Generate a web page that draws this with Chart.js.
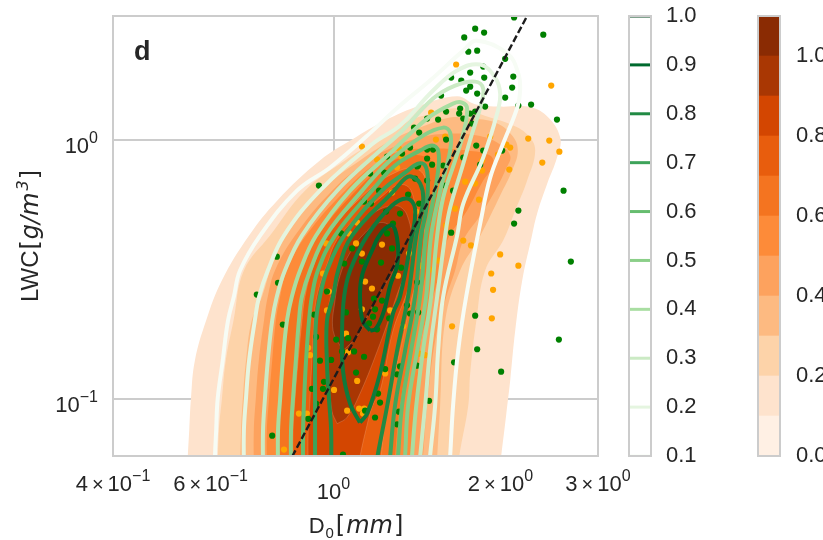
<!DOCTYPE html>
<html><head><meta charset="utf-8">
<style>html,body{margin:0;padding:0;background:#fff}canvas{position:absolute;left:0;top:0}</style>
<script src="https://cdn.jsdelivr.net/npm/chart.js@4"></script></head>
<body>
<canvas id="main" width="823" height="540"></canvas>
<canvas id="cbGreen" width="823" height="540"></canvas>
<canvas id="cbOrange" width="823" height="540"></canvas>
<script>
const xTickValues=[0.4,0.6,1,2,3];
const xTickMantissas=['4','6','','2','3'];
const xTickExponents=['−1','−1','0','0','0'];
const yTickValues=[0.1,1];
const yTickExponents=['−1','0'];
const greenLevels=[1.0,0.9,0.8,0.7,0.6,0.5,0.4,0.3,0.2,0.1];
const greenColors=['#00441b','#006a2e','#218a44','#3da35a','#66bd6f','#8bcf89','#a9dea2','#cbeac4','#e5f5e0','#f7fcf5'];
const orangeEdges=[0,0.1,0.2,0.3,0.4,0.5,0.6,0.7,0.8,0.9,1.0,1.1];
const orangeColors=['#fff0e4','#fee3cd','#fdd3a9','#fdba81','#fda25e','#fd8b39','#f47420','#e85d0d','#d34601','#a93703','#8a2b03'];
const band1=[[.544,.0527],[.549,.0752],[.553,.1],[.562,.14],[.589,.2],[.629,.286],[.704,.426],[.791,.581],[.945,.83],[1.08,1],[1.239,1.184],[1.433,1.353],[1.671,1.47],[1.801,1.37],[1.998,1.341],[2.235,1.341],[2.42,1.238],[2.564,1.018],[2.53,.852],[2.43,.676],[2.33,.518],[2.27,.4075],[2.19,.286],[2.127,.183],[2.083,.1174],[2.05,.0875],[2.006,.0597],[1.99,.0527]];
const band2=[[.618,.0527],[.621,.0752],[.629,.1],[.639,.14],[.66,.2],[.689,.312],[.768,.426],[.888,.635],[1.049,.83],[1.203,1],[1.374,1.184],[1.512,1.26],[1.671,1.32],[1.917,1.216],[2.11,1.132],[2.245,1.036],[2.311,.9066],[2.235,.6945],[2.127,.532],[2.023,.4075],[1.877,.312],[1.81,.2],[1.764,.125],[1.75,.094],[1.685,.0597],[1.678,.0527]];
const band3=[[.678,.0527],[.681,.0752],[.686,.1],[.695,.14],[.712,.2],[.743,.2477],[.768,.312],[.81,.426],[.945,.635],[1.116,.83],[1.28,1],[1.463,1.132],[1.623,1.216],[1.764,1.205],[1.957,1.163],[2.1,1.036],[2.15,.9066],[2.1,.759],[1.998,.608],[1.9,.487],[1.82,.4075],[1.692,.312],[1.59,.2],[1.557,.094],[1.538,.0597],[1.532,.0527]];
const band4=[[.718,.0527],[.718,.0752],[.724,.1],[.733,.14],[.749,.2],[.761,.2477],[.784,.312],[.852,.426],[.994,.635],[1.155,.83],[1.265,.923],[1.433,1.018],[1.623,1.055],[1.816,1.036],[1.973,.974],[2.083,.867],[2.04,.759],[1.957,.635],[1.839,.509],[1.714,.4075],[1.657,.312],[1.59,.239],[1.525,.1675],[1.475,.094],[1.45,.0597],[1.44,.0527]];
const band5=[[.758,.0527],[.758,.0752],[.765,.1],[.775,.14],[.787,.2],[.801,.2477],[.823,.312],[.892,.426],[1.049,.635],[1.213,.83],[1.346,.9066],[1.525,.923],[1.742,.9066],[1.917,.867],[1.94,.794],[1.862,.6945],[1.742,.532],[1.603,.4075],[1.557,.312],[1.506,.239],[1.433,.16],[1.415,.094],[1.385,.0597],[1.38,.0527]];
const band6=[[.798,.0527],[.798,.0752],[.804,.1],[.814,.14],[.828,.2],[.845,.2477],[.87,.312],[.937,.426],[1.098,.635],[1.239,.794],[1.374,.867],[1.48,.845],[1.537,.745],[1.53,.556],[1.493,.4075],[1.48,.341],[1.433,.239],[1.374,.153],[1.318,.094],[1.291,.0597],[1.286,.0527]];
const band7=[[.845,.0527],[.845,.0752],[.852,.1],[.863,.14],[.877,.2],[.888,.2477],[.914,.312],[.973,.426],[1.155,.635],[1.291,.745],[1.403,.773],[1.463,.707],[1.463,.509],[1.44,.341],[1.38,.239],[1.318,.153],[1.25,.094],[1.218,.0597],[1.213,.0527]];
const band8=[[.9,.0527],[.9,.0752],[.907,.1],[.914,.14],[.922,.2],[.933,.2477],[.965,.312],[1.027,.426],[1.228,.608],[1.318,.67],[1.38,.635],[1.403,.487],[1.374,.286],[1.28,.183],[1.213,.107],[1.176,.094],[1.143,.0752],[1.116,.0597],[1.105,.0527]];
const band9=[[1.015,.08],[.993,.0898],[.977,.1365],[.965,.1675],[.977,.219],[1.006,.2856],[1.071,.4075],[1.164,.509],[1.291,.556],[1.358,.509],[1.38,.373],[1.296,.245],[1.213,.163],[1.116,.1045],[1.057,.0845],[1.015,.08]];
const band10=[[1.04,.153],[.998,.183],[1.006,.239],[1.027,.298],[1.071,.366],[1.14,.437],[1.213,.478],[1.28,.453],[1.302,.39],[1.28,.312],[1.234,.273],[1.164,.219],[1.105,.175],[1.04,.153]];
const level01=[[.611,.0527],[.611,.0597],[.614,.0752],[.618,.1],[.631,.14],[.645,.2],[.661,.2477],[.678,.312],[.737,.426],[.859,.635],[.986,.78],[1.14,1.018],[1.318,1.353],[1.493,1.69],[1.714,2.205],[1.816,2.41],[2.06,2.148],[2.155,1.798],[2.171,1.546],[2.145,1.329],[2.023,.965],[1.917,.713],[1.839,.474],[1.735,.2477],[1.678,.153],[1.643,.094],[1.623,.0597],[1.616,.0527]];
const level02=[[.689,.0527],[.689,.0752],[.695,.1],[.704,.14],[.721,.2],[.734,.2477],[.761,.312],[.814,.426],[.945,.635],[1.178,.965],[1.318,1.132],[1.512,1.546],[1.671,1.847],[1.839,1.949],[1.957,1.736],[1.998,1.505],[1.973,1.26],[1.862,.852],[1.714,.566],[1.671,.426],[1.577,.2477],[1.544,.153],[1.525,.094],[1.493,.0597],[1.487,.0527]];
const level03=[[.746,.0527],[.746,.0752],[.752,.1],[.761,.14],[.775,.2],[.79,.2477],[.817,.312],[.877,.426],[1.015,.635],[1.213,.9066],[1.318,1.06],[1.512,1.44],[1.657,1.616],[1.801,1.674],[1.862,1.574],[1.839,1.329],[1.778,1.055],[1.706,.78],[1.623,.546],[1.59,.426],[1.538,.2477],[1.493,.153],[1.463,.094],[1.433,.0597],[1.427,.0527]];
const level04=[[.794,.0527],[.794,.0752],[.801,.1],[.81,.14],[.824,.2],[.841,.2477],[.87,.312],[.93,.426],[1.071,.635],[1.28,.9066],[1.475,1.205],[1.643,1.377],[1.706,1.39],[1.742,1.317],[1.714,1.055],[1.657,.83],[1.577,.597],[1.538,.426],[1.5,.2477],[1.45,.153],[1.41,.094],[1.385,.0597],[1.38,.0527]];
const level05=[[.838,.0527],[.838,.0752],[.845,.1],[.855,.14],[.866,.2],[.877,.2477],[.907,.312],[.969,.426],[1.126,.635],[1.265,.83],[1.451,1.036],[1.577,1.112],[1.623,1.064],[1.623,.9066],[1.563,.653],[1.5,.426],[1.469,.2477],[1.415,.153],[1.363,.094],[1.346,.0597],[1.34,.0527]];
const level06=[[.881,.0527],[.881,.0752],[.885,.1],[.892,.14],[.903,.2],[.914,.2477],[.937,.312],[1.006,.426],[1.173,.635],[1.291,.794],[1.433,.9066],[1.506,.948],[1.544,.9066],[1.544,.759],[1.506,.556],[1.469,.426],[1.433,.2477],[1.38,.153],[1.329,.094],[1.307,.0597],[1.3,.0527]];
const level07=[[.926,.0527],[.926,.0752],[.926,.1],[.926,.14],[.93,.2],[.945,.2477],[.973,.312],[1.045,.426],[1.223,.635],[1.346,.745],[1.421,.808],[1.463,.794],[1.48,.6945],[1.469,.532],[1.439,.426],[1.403,.2477],[1.346,.153],[1.291,.094],[1.265,.0597],[1.26,.0527]];
const level08=[[.99,.0527],[.99,.0752],[.981,.1],[.973,.1365],[.973,.2],[.998,.2477],[1.019,.312],[1.08,.426],[1.286,.635],[1.346,.707],[1.38,.72],[1.433,.676],[1.451,.581],[1.41,.426],[1.363,.2477],[1.302,.153],[1.25,.094],[1.2,.0597],[1.19,.0527]];
const level09=[[1.116,.0808],[1.071,.0956],[1.04,.128],[1.036,.183],[1.045,.2477],[1.071,.312],[1.15,.426],[1.275,.556],[1.358,.592],[1.403,.542],[1.38,.4075],[1.318,.2477],[1.28,.213],[1.213,.125],[1.15,.0875],[1.116,.0808]];
const level10=[[1.164,.183],[1.128,.2],[1.116,.254],[1.128,.304],[1.18,.383],[1.203,.418],[1.239,.453],[1.28,.465],[1.307,.39],[1.302,.326],[1.265,.273],[1.234,.219],[1.193,.186],[1.164,.183]];
const fitLine=[[.842,.0597],[2.235,3]];
const orangeDots=[[1.125,.94],[1.312,.923],[1.324,.86],[1.198,.838],[1.302,.78],[1.103,.478],[1.066,.434],[1.409,.527],[1.275,.624],[.97,.397],[1.098,.397],[1.125,.363],[1.223,.393],[.957,.304],[.981,.259],[.973,.219],[1.14,.283],[1.173,.266],[1.307,.298],[1.265,.219],[1.125,.221],[1.053,.178],[.9,.157],[.907,.147],[1.062,.151],[1.103,.117],[1.002,.108],[1.239,.125],[1.112,.0915],[1.058,.0898],[1.136,.0915],[1.13,.0875],[.866,.0875],[.895,.0875],[.814,.0635],[1.368,.363],[1.335,.19],[1.427,.149],[1.664,1.949],[2.47,1.616],[1.5,1.27],[2.245,1.009],[2.45,.991],[2.555,.898],[2.38,.815],[1.917,1.027],[1.53,1],[1.59,1.027],[2.083,.931],[2.05,.956],[1.854,.83],[1.98,.875],[2.075,.766],[1.854,.759],[1.728,.688],[1.801,.676],[1.83,.586],[1.657,.541],[1.596,.466],[1.998,.36],[2.155,.326],[1.925,.304],[1.94,.263],[1.93,.204],[1.636,.19],[1.714,.4075],[1.77,.39],[1.433,.326],[1.544,.341],[1.493,.315],[1.463,.147]];
const greenDots=[[.941,.664],[1.397,1.112],[1.427,1.064],[1.374,.931],[1.329,.883],[1.249,.86],[1.164,.739],[1.234,.745],[1.208,.635],[1.135,.576],[1.168,.566],[1.244,.527],[1.318,.518],[1.363,.613],[1.415,.787],[1.403,.707],[1.032,.434],[1.249,.434],[1.28,.474],[.79,.353],[.794,.28],[.727,.252],[.81,.193],[.922,.211],[.973,.259],[.93,.173],[1.011,.169],[1.062,.171],[1.053,.215],[1.036,.152],[1.089,.152],[1.135,.145],[.945,.14],[.99,.141],[1.098,.126],[.961,.116],[.957,.109],[.914,.109],[.93,.0955],[.9,.0835],[.775,.0719],[1.04,.0607],[1.188,.0845],[1.213,.0965],[1.203,.1045],[1.14,.0898],[1.239,.13],[1.302,.124],[1.318,.133],[1.26,.204],[1.198,.185],[1.159,.195],[1.178,.207],[1.188,.221],[1.223,.239],[1.183,.243],[1.324,.32],[1.275,.38],[1.218,.335],[1.125,.338],[1.08,.38],[1.045,.332],[1.357,.229],[1.415,.281],[1.312,.089],[1.302,.0795],[1.374,.213],[1.421,.215],[1.415,.134],[1.801,2.68],[1.869,2.59],[1.721,2.48],[2.117,2.96],[2.39,2.54],[1.75,2.185],[1.816,2.205],[2.04,2.05],[1.862,1.914],[1.764,1.814],[1.7,1.69],[1.87,1.736],[2.11,1.75],[2.1,1.587],[1.764,1.6],[1.735,1.546],[1.816,1.505],[1.63,1.736],[2.04,1.452],[1.563,1.478],[2.272,1.365],[2.155,1.353],[1.877,1.341],[1.692,1.317],[1.685,1.26],[1.801,1.283],[1.764,1.26],[1.596,1.283],[2.53,1.195],[1.544,1.195],[1.475,1.205],[1.714,1.205],[1.778,1.153],[1.596,1],[1.809,.948],[1.475,.915],[1.512,.915],[1.862,.9066],[2.015,.9066],[1.475,.845],[1.714,.852],[1.506,.8],[1.577,.794],[1.839,.8],[1.475,.6945],[1.59,.664],[1.643,.635],[2.6,.635],[1.421,.794],[1.427,.566],[2.155,.532],[2.117,.474],[1.63,.437],[2.68,.338],[2.55,.169],[1.801,.209],[1.816,.155],[2.006,.127],[1.65,.138],[1.487,.098]];

const FONT='"Liberation Sans", Arial, sans-serif';
const MATH='"DejaVu Sans", sans-serif';
const TEXT='#262626', SPINE='#cccccc';
const toPts=a=>a.map(p=>({x:p[0],y:p[1]}));
const bands=[band1,band2,band3,band4,band5,band6,band7,band8,band9,band10];
const levels=[level01,level02,level03,level04,level05,level06,level07,level08,level09,level10];
const levelColors=['#f7fcf5','#e5f5e0','#cbeac4','#a9dea2','#8bcf89','#66bd6f','#3da35a','#218a44','#117a3c','#006a2e'];

const datasets=[];
bands.forEach((b,i)=>datasets.push({band:true,data:toPts(b),showLine:true,tension:0.4,capBezierPoints:false,backgroundColor:orangeColors[i+1],borderColor:'rgba(255,255,255,0.22)',borderWidth:i>5?0.7:0,pointRadius:0,clip:0}));
datasets.push({data:toPts(orangeDots),backgroundColor:'#ffa500',borderWidth:0,pointRadius:3.1,clip:0});
datasets.push({data:toPts(greenDots),backgroundColor:'#008000',borderWidth:0,pointRadius:3.1,clip:0});
levels.forEach((l,i)=>datasets.push({data:toPts(l),showLine:true,tension:0.4,capBezierPoints:false,borderColor:levelColors[i],backgroundColor:'transparent',borderWidth:4,pointRadius:0,clip:0}));
datasets.push({data:toPts(fitLine),showLine:true,borderColor:'#1c1c1c',borderWidth:2.4,borderDash:[7,3],pointRadius:0,clip:0});
datasets.forEach((d,i)=>{d.order=datasets.length-i;});

const bandFill={id:'bandFill',beforeDatasetDraw(chart,args){
  const ds=chart.data.datasets[args.index]; if(!ds.band) return;
  const c=chart.ctx,a=chart.chartArea;
  c.save();c.beginPath();c.rect(a.left,a.top,a.right-a.left,a.bottom-a.top);c.clip();
  c.beginPath();args.meta.dataset.path(c);c.closePath();c.fillStyle=ds.backgroundColor;c.fill();c.restore();
}};
const frame={id:'frame',afterDatasetsDraw(chart){
  const c=chart.ctx,a=chart.chartArea;
  c.save();c.strokeStyle=SPINE;c.lineWidth=2;c.strokeRect(a.left,a.top,a.right-a.left,a.bottom-a.top);c.restore();
}};
function fontOf(r){return (r.i?'italic ':'')+(r.s||22)+'px '+(r.f||FONT);}
function runs(c,list,cx,cy,align){
  let w=0;
  list.forEach(r=>{c.font=fontOf(r);r.w=c.measureText(r.t).width+(r.g||0);w+=r.w;});
  let x=align==='right'?cx-w:cx-w/2;
  c.textAlign='left';c.textBaseline='alphabetic';c.fillStyle=TEXT;
  list.forEach(r=>{c.font=fontOf(r);c.fillText(r.t,x,cy+(r.dy||0));x+=r.w;});
}
const titles={id:'titles',afterDraw(chart){
  const c=chart.ctx;c.save();
  const sx=chart.scales.x, sy=chart.scales.y;
  xTickValues.forEach((v,i)=>{
    const m=xTickMantissas[i];
    const list=m?[{t:m,g:4},{t:'×',s:20,g:4},{t:'10'},{t:xTickExponents[i],s:16,dy:-10}]:[{t:'10'},{t:xTickExponents[i],s:16,dy:-10}];
    runs(c,list,sx.getPixelForValue(v),m?491:499);
  });
  yTickValues.forEach((v,i)=>{
    runs(c,[{t:'10'},{t:yTickExponents[i],s:16,dy:-10}],98,sy.getPixelForValue(v)+13,'right');
  });
  runs(c,[{t:'D',g:1},{t:'0',s:15,dy:5,g:2},{t:'[',s:24,f:MATH,g:1},{t:'mm',i:1,s:24,f:MATH,g:1},{t:']',s:24,f:MATH}],356,533);
  c.save();c.translate(38,236);c.rotate(-Math.PI/2);
  runs(c,[{t:'LWC',s:24,g:1},{t:'[',s:24,f:MATH,g:1},{t:'g/m',i:1,s:24,f:MATH,g:2},{t:'3',i:1,s:16,f:MATH,dy:-10,g:1},{t:']',s:24,f:MATH}],0,0);
  c.restore();
  c.font='bold 27px '+FONT;c.fillStyle=TEXT;c.textAlign='left';c.textBaseline='alphabetic';c.fillText('d',134,60);
  c.restore();
}};
const noPad=s=>{s.paddingLeft=0;s.paddingRight=0;s.paddingTop=0;s.paddingBottom=0;};

new Chart(document.getElementById('main'),{type:'scatter',data:{datasets},plugins:[bandFill,frame,titles],options:{
  responsive:false,animation:false,events:[],
  layout:{padding:{top:16,right:225,left:0,bottom:0}},
  plugins:{legend:{display:false},tooltip:{enabled:false}},
  scales:{
    x:{type:'logarithmic',min:0.4,max:3,
      afterBuildTicks:s=>{s.ticks=xTickValues.map(v=>({value:v,major:v===1}));},
      afterFit:s=>{s.height=84;noPad(s);},
      border:{display:false},
      grid:{drawTicks:false,lineWidth:2,color:c=>(c.tick&&c.tick.value===1)?SPINE:'transparent'},
      ticks:{display:false,autoSkip:false,maxRotation:0}},
    y:{type:'logarithmic',min:0.06,max:3,
      afterBuildTicks:s=>{s.ticks=yTickValues.map(v=>({value:v,major:true}));},
      afterFit:s=>{s.width=113;noPad(s);},
      border:{display:false},
      grid:{drawTicks:false,lineWidth:2,color:SPINE},
      ticks:{display:false,autoSkip:false}}
  }}});

new Chart(document.getElementById('cbGreen'),{type:'scatter',
  data:{datasets:greenLevels.map((v,i)=>({data:[{x:0,y:v},{x:1,y:v}],showLine:true,borderColor:greenColors[i],borderWidth:3,pointRadius:0}))},
  plugins:[frame],options:{responsive:false,animation:false,events:[],
  layout:{padding:{left:629,right:100,top:16,bottom:84}},
  plugins:{legend:{display:false},tooltip:{enabled:false}},
  scales:{x:{display:false,min:0,max:1},
    y:{position:'right',min:0.1,max:1,afterFit:s=>{s.width=72;noPad(s);},border:{display:false},grid:{display:false,drawTicks:false},
      ticks:{stepSize:0.1,padding:15,color:TEXT,font:{family:FONT,size:22},callback:v=>(+v).toFixed(1)}}}}});

new Chart(document.getElementById('cbOrange'),{type:'bar',
  data:{labels:['c'],datasets:orangeColors.map((col,i)=>({data:[[orangeEdges[i],orangeEdges[i+1]]],backgroundColor:col,borderWidth:0,barPercentage:1,categoryPercentage:1,grouped:false}))},
  plugins:[frame],options:{responsive:false,animation:false,events:[],
  layout:{padding:{left:758,right:0,top:16,bottom:84}},
  plugins:{legend:{display:false},tooltip:{enabled:false}},
  scales:{x:{display:false},
    y:{position:'right',min:0,max:1.1,afterFit:s=>{s.width=43;noPad(s);},border:{display:false},grid:{display:false,drawTicks:false},
      ticks:{stepSize:0.2,includeBounds:false,padding:16,color:TEXT,font:{family:FONT,size:22},callback:v=>(+v).toFixed(1)}}}}});
</script>
</body></html>
